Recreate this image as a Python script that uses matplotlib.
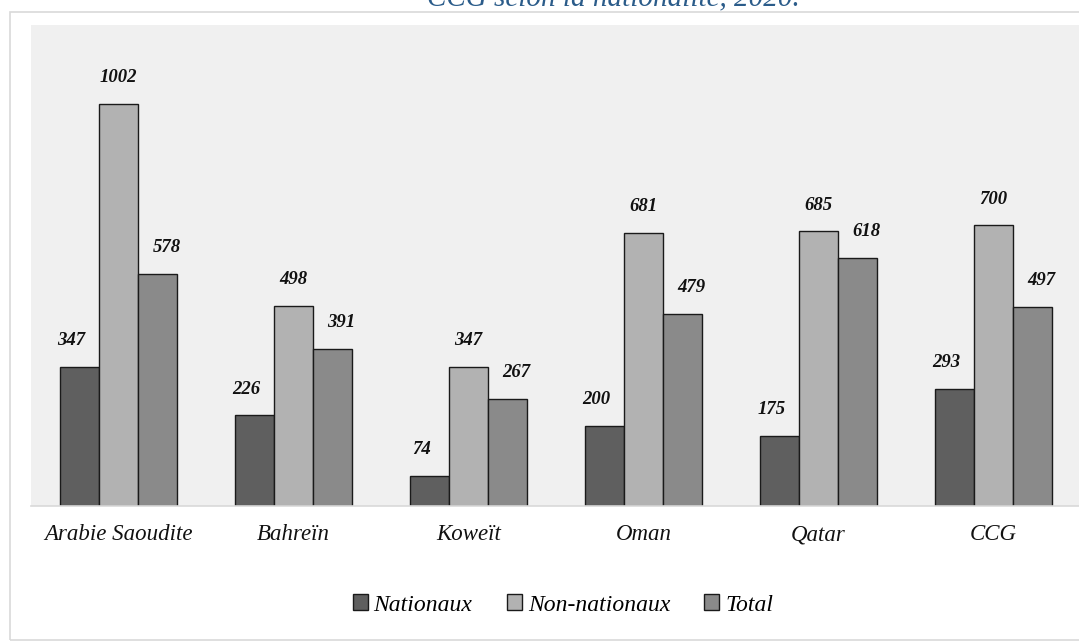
import numpy as np
import matplotlib.pyplot as plt
from matplotlib.patches import Rectangle, Patch

# ––––– data
pays = ["Arabie Saoudite", "Bahreïn", "Koweït", "Oman", "Qatar", "CCG"]
nationaux = [347, 226, 74, 200, 175, 293]
non_nationaux = [1002, 498, 347, 681, 685, 700]
total = [578, 391, 267, 479, 618, 497]

series = [("Nationaux", nationaux, "#5F5F5F", -8),
          ("Non-nationaux", non_nationaux, "#B2B2B2", 0),
          ("Total", total, "#8A8A8A", 9)]

plt.rcParams['font.family'] = ['Liberation Serif', 'DejaVu Serif']

W, H = 1079, 641
fig = plt.figure(figsize=(W / 100, H / 100), dpi=100)

# outer chart frame
fig.patches.append(Rectangle((10 / W, 1 - 640 / H), 1.2, (640 - 12) / H,
                             transform=fig.transFigure, fill=False,
                             edgecolor="#D9D9D9", linewidth=1.2))

# title, partly cut by the top edge
fig.text(613 / W, 1 - 5 / H, "CCG selon la nationalité, 2020.",
         ha="center", va="baseline", fontsize=21, style="italic",
         color="#2B5C8A")

ax = fig.add_axes([31 / W, 1 - 506 / H, 1050 / W, (506 - 25) / H])
ax.set_facecolor("#F0F0F0")

x = np.arange(len(pays))
bw = 0.223
for i, (name, vals, col, dx) in enumerate(series):
    pos = x + (i - 1) * bw
    ax.bar(pos, vals, width=bw, color=col, edgecolor="#1A1A1A",
           linewidth=1.0, label=name, zorder=2)
    for p, v in zip(pos, vals):
        ax.annotate(f"{v}", (p, v), xytext=(dx * 0.72, 19),
                    textcoords="offset points", ha="center", va="center",
                    fontsize=13.5, style="italic", fontweight="bold",
                    color="#111111")

ax.set_xlim(-0.5, 5.5)
ax.set_ylim(0, 1200)
ax.set_yticks([])
ax.set_xticks(x)
ax.set_xticklabels(pays, fontsize=16.5, style="italic", color="#111111")
ax.tick_params(axis="x", length=0, pad=13)
for s in ["top", "left", "right"]:
    ax.spines[s].set_visible(False)
ax.spines["bottom"].set_color("#D9D9D9")
ax.spines["bottom"].set_linewidth(1.2)

handles = [Patch(facecolor=c, edgecolor="#1A1A1A", label=n)
           for n, _, c, _ in series]
fig.legend(handles=handles, loc="center", ncol=3, frameon=False,
           bbox_to_anchor=(563 / W, 1 - 605 / H),
           prop={"size": 17, "style": "italic"},
           handlelength=0.64, handleheight=0.64, handletextpad=0.25,
           columnspacing=1.45)

plt.savefig("out.png", dpi=100)
